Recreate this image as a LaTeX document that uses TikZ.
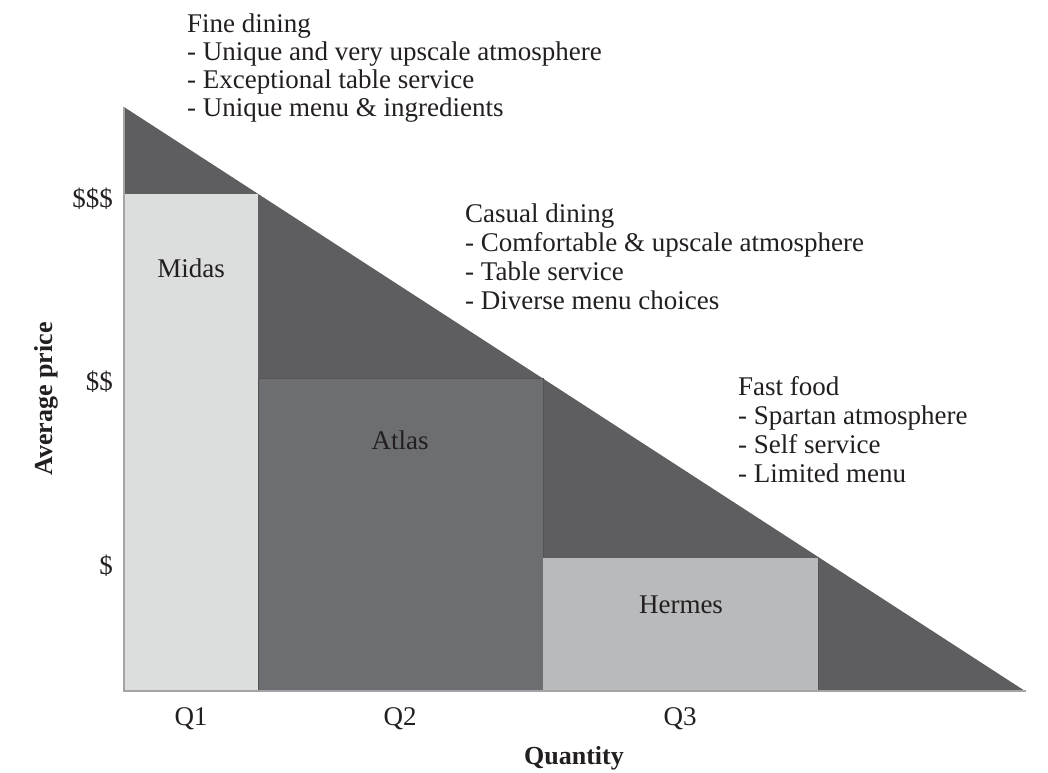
\documentclass[tikz,border=0pt]{standalone}
\usepackage{fontspec}
\setmainfont{Liberation Serif}
\definecolor{tridark}{HTML}{5E5E60}
\definecolor{midasfill}{HTML}{DCDDDD}
\definecolor{atlasfill}{HTML}{6D6E71}
\definecolor{hermesfill}{HTML}{B8BABB}
\definecolor{axisgray}{HTML}{A4A4A6}
\definecolor{edgegray}{HTML}{545456}
\definecolor{txt}{HTML}{231F20}
\tikzset{
  lbl/.style={inner sep=0pt, text=txt, font=\fontsize{27}{29}\selectfont},
  axlbl/.style={inner sep=0pt, text=txt, font=\fontsize{26}{28}\selectfont\bfseries},
  block/.style={inner sep=0pt, text=txt, anchor=base west},
}
\newcommand{\blocktext}[2]{\fontsize{27}{#1}\selectfont\begin{tabular}[t]{@{}l@{}}#2\end{tabular}}
\begin{document}
\begin{tikzpicture}[x=1pt,y=-1pt]
\useasboundingbox[fill=white] (0,0) rectangle (1048,772);
% triangle
\fill[tridark] (124,107) -- (124,691) -- (1025,691) -- cycle;
% bars
\fill[midasfill] (124,194) rectangle (258,691);
\filldraw[fill=atlasfill, draw=edgegray, line width=0.8pt] (258,378) rectangle (543,691);
\fill[hermesfill] (543,558) rectangle (818,691);
\draw[edgegray, line width=0.8pt] (818,558) -- (818,691);
% axes
\draw[axisgray, line width=1.3pt] (124,107) -- (124,691) -- (1026,691);
% bar labels
\node[lbl, anchor=base] (midas) at (191,277) {Midas};
\node[lbl, anchor=base] (atlas) at (400,449) {Atlas};
\node[lbl, anchor=base] (hermes) at (681,613) {Hermes};
% price ticks
\node[lbl, anchor=base east] (p3) at (113,207.6) {\$\$\$};
\node[lbl, anchor=base east] (p2) at (113,390.6) {\$\$};
\node[lbl, anchor=base east] (p1) at (113,574.6) {\$};
% quantity ticks
\node[lbl, anchor=base] (q1) at (191,725) {Q1};
\node[lbl, anchor=base] (q2) at (400,725) {Q2};
\node[lbl, anchor=base] (q3) at (680,725) {Q3};
% axis titles
\node[axlbl, anchor=base, rotate=90] (ylab) at (52,399) {Average price};
\node[axlbl, anchor=base] (xlab) at (574,764) {Quantity};
% category descriptions
\node[block] (fine) at (187,32) {\blocktext{28.3}{Fine dining\\- Unique and very upscale atmosphere\\- Exceptional table service\\- Unique menu \& ingredients}};
\node[block] (casual) at (465,222) {\blocktext{29.2}{Casual dining\\- Comfortable \& upscale atmosphere\\- Table service\\- Diverse menu choices}};
\node[block] (fast) at (738,395) {\blocktext{29.2}{Fast food\\- Spartan atmosphere\\- Self service\\- Limited menu}};
\end{tikzpicture}
\end{document}
